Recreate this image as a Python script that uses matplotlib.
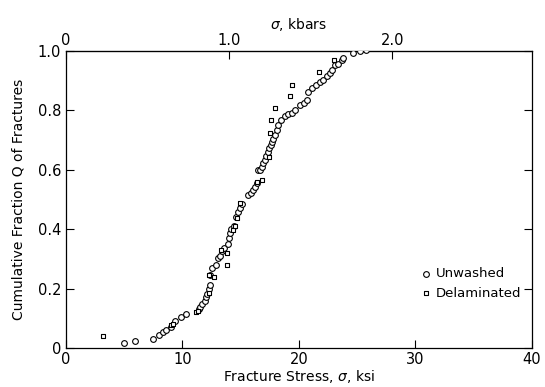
import matplotlib
matplotlib.use("Agg")
import matplotlib.pyplot as plt

# Unwashed specimens (open circles): fracture stress (ksi) and cumulative fraction Q
unwashed_stress = [5.0, 5.9, 7.5, 8.0, 8.3, 8.6, 9.0, 9.4, 9.9, 10.3,
                   11.4, 11.55, 11.7, 11.9, 12.0, 12.1, 12.27, 12.36, 12.4, 12.5,
                   12.9, 13.07, 13.2, 13.4, 13.6, 13.93, 14.0, 14.1, 14.2, 14.4,
                   14.6, 14.8, 14.94, 15.08, 15.65, 15.85, 16.08, 16.22, 16.37, 16.5,
                   16.65, 16.8, 16.94, 17.08, 17.2, 17.37, 17.45, 17.57, 17.66, 17.8,
                   17.94, 18.08, 18.2, 18.5, 18.8, 19.1, 19.37, 19.66, 20.1, 20.4,
                   20.65, 20.8, 21.1, 21.46, 21.8, 22.1, 22.4, 22.66, 22.8, 23.1,
                   23.37, 23.66, 23.8, 24.6, 25.2, 25.8]
unwashed_q = [0.018, 0.024, 0.029, 0.044, 0.055, 0.062, 0.072, 0.092, 0.103, 0.113,
              0.130, 0.139, 0.147, 0.159, 0.170, 0.180, 0.197, 0.213, 0.246, 0.268,
              0.279, 0.302, 0.310, 0.325, 0.338, 0.350, 0.369, 0.386, 0.400, 0.410,
              0.440, 0.459, 0.470, 0.485, 0.515, 0.523, 0.532, 0.543, 0.555, 0.600,
              0.600, 0.608, 0.622, 0.633, 0.646, 0.661, 0.672, 0.684, 0.695, 0.703,
              0.717, 0.734, 0.750, 0.768, 0.781, 0.788, 0.792, 0.801, 0.818, 0.824,
              0.835, 0.863, 0.874, 0.886, 0.897, 0.904, 0.916, 0.925, 0.936, 0.953,
              0.958, 0.970, 0.978, 0.994, 1.000, 1.002]

# Delaminated specimens (open squares)
delam_stress = [3.15, 8.98, 9.2, 11.16, 11.36, 12.25, 12.3, 12.7, 13.3, 13.85,
                13.8, 14.37, 14.5, 14.65, 14.94, 16.37, 16.8, 17.45, 17.5, 17.6,
                17.94, 19.23, 19.43, 21.7, 23.0]
delam_q = [0.041, 0.077, 0.080, 0.120, 0.125, 0.186, 0.245, 0.240, 0.330, 0.280,
           0.319, 0.397, 0.410, 0.437, 0.487, 0.560, 0.566, 0.644, 0.725, 0.768,
           0.807, 0.848, 0.886, 0.928, 0.970]

x_ticks = [0, 10, 20, 30, 40]
y_ticks = [0, 0.2, 0.4, 0.6, 0.8, 1.0]
y_ticklabels = ["0", "0.2", "0.4", "0.6", "0.8", "1.0"]
kbar_ticks = [0, 1.0, 2.0]
kbar_labels = ["0", "1.0", "2.0"]
KSI_PER_KBAR = 14.0

fig = plt.figure(figsize=(5.45, 3.87), dpi=100)
ax = fig.add_axes([0.121, 0.101, 0.855, 0.767])

ax.scatter(unwashed_stress, unwashed_q, s=17, facecolors="white", edgecolors="black",
           linewidths=0.8, marker="o", label="Unwashed", zorder=3)
ax.scatter(delam_stress, delam_q, s=10, facecolors="white", edgecolors="black",
           linewidths=0.8, marker="s", label="Delaminated", zorder=3)

ax.set_xlim(0, 40)
ax.set_ylim(0, 1.0)
ax.set_xticks(x_ticks)
ax.set_xticklabels([str(t) for t in x_ticks])
ax.set_yticks(y_ticks)
ax.set_yticklabels(y_ticklabels)
ax.tick_params(axis="both", direction="in", length=6, width=0.8, labelsize=10.5,
               top=False, right=True)
ax.tick_params(axis="x", pad=3)

for sp in ax.spines.values():
    sp.set_linewidth(0.9)

ax.set_xlabel("Fracture Stress, $\\sigma$, ksi", fontsize=10, labelpad=1)
ax.set_ylabel("Cumulative Fraction Q of Fractures", fontsize=10, labelpad=9)

sec = ax.secondary_xaxis("top", functions=(lambda x: x / KSI_PER_KBAR,
                                            lambda x: x * KSI_PER_KBAR))
sec.set_xticks(kbar_ticks)
sec.set_xticklabels(kbar_labels)
sec.tick_params(direction="in", length=6, width=0.8, labelsize=10.5, pad=2)
sec.set_xlabel("$\\sigma$, kbars", fontsize=10, labelpad=3)

leg = ax.legend(loc="lower right", bbox_to_anchor=(0.995, 0.135), frameon=False,
                fontsize=9.5, handletextpad=0.3, borderaxespad=0.2,
                labelspacing=0.5, markerscale=1.0, handlelength=1.0)

fig.savefig("out.png", dpi=100)
